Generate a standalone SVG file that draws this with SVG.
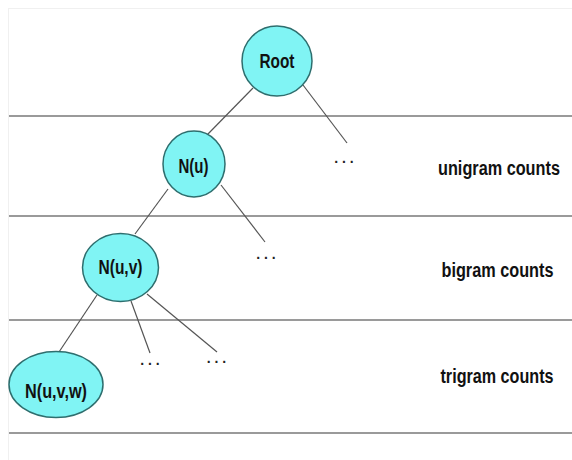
<svg xmlns="http://www.w3.org/2000/svg" width="572" height="460" viewBox="0 0 572 460">
<style>
.node{fill:#80F4F4;stroke:#2E6E6E;stroke-width:1.5}
.lbl{font-family:"Liberation Sans",Arial,sans-serif;font-weight:bold;font-size:20px;fill:#111;text-anchor:middle}
.side{font-family:"Liberation Sans",Arial,sans-serif;font-weight:bold;font-size:21px;fill:#111}
.dots{font-family:"Liberation Sans",Arial,sans-serif;font-weight:bold;font-size:14px;fill:#222;text-anchor:middle}
.band{stroke:#9a9a9a;stroke-width:2}
.edge{stroke:#555;stroke-width:1.2;fill:none}
</style>
<rect x="0" y="0" width="572" height="460" fill="#ffffff"/>
<rect x="8.5" y="8.5" width="570" height="460" fill="none" stroke="#f0f0f0" stroke-width="1"/>
<g id="bands">
<line class="band" x1="9" y1="116" x2="572" y2="116"/>
<line class="band" x1="9" y1="216" x2="572" y2="216"/>
<line class="band" x1="9" y1="320" x2="572" y2="320"/>
<line class="band" x1="9" y1="433" x2="572" y2="433"/>
</g>
<g id="connectors">
<line class="edge" x1="253" y1="88" x2="207" y2="135"/>
<line class="edge" x1="303" y1="85" x2="347" y2="143"/>
<line class="edge" x1="168" y1="189" x2="135" y2="234"/>
<line class="edge" x1="221" y1="185" x2="265" y2="242"/>
<line class="edge" x1="97" y1="295" x2="59" y2="352"/>
<line class="edge" x1="131" y1="301" x2="150" y2="353"/>
<line class="edge" x1="147" y1="294" x2="217" y2="352"/>
</g>
<g id="root">
<circle class="node" cx="277" cy="61" r="35"/>
<text class="lbl" x="277" y="68" textLength="35" lengthAdjust="spacingAndGlyphs">Root</text>
</g>
<g id="n_u">
<ellipse class="node" cx="194" cy="164" rx="31" ry="33"/>
<text class="lbl" x="193.5" y="173" textLength="30" lengthAdjust="spacingAndGlyphs">N(u)</text>
</g>
<g id="n_uv">
<ellipse class="node" cx="120.5" cy="267.5" rx="38" ry="34"/>
<text class="lbl" x="120.5" y="274" textLength="44" lengthAdjust="spacingAndGlyphs">N(u,v)</text>
</g>
<g id="n_uvw">
<ellipse class="node" cx="56" cy="384.5" rx="47" ry="33"/>
<text class="lbl" x="56" y="398" textLength="62" lengthAdjust="spacingAndGlyphs">N(u,v,w)</text>
</g>
<g id="dots1"><text class="dots" x="344" y="163">. . .</text></g>
<g id="dots2"><text class="dots" x="266" y="259">. . .</text></g>
<g id="dots3"><text class="dots" x="150" y="365">. . .</text></g>
<g id="dots4"><text class="dots" x="216.5" y="363">. . .</text></g>
<g id="labels">
<text class="side" transform="translate(438,175) scale(0.775,1)">unigram counts</text>
<text class="side" transform="translate(441.5,277) scale(0.774,1)">bigram counts</text>
<text class="side" transform="translate(440.5,383) scale(0.769,1)">trigram counts</text>
</g>
</svg>
